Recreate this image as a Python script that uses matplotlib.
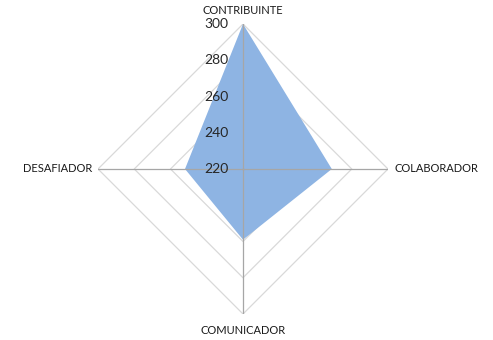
import numpy as np
import matplotlib
matplotlib.use("Agg")
import matplotlib.pyplot as plt
import matplotlib.transforms as mtransforms

categories = ["CONTRIBUINTE", "COLABORADOR", "COMUNICADOR", "DESAFIADOR"]
values = [300, 269, 259, 252]
rticks = [220, 240, 260, 280, 300]
rmin, rmax = 220, 300

plt.rcParams['font.family'] = ['Lato', 'DejaVu Sans']

fig = plt.figure(figsize=(4.93, 3.40), dpi=100)
ax = fig.add_axes([0.1988, 0.0765, 0.5882, 0.8529], projection='polar')
ax.set_theta_offset(np.pi / 2)
ax.set_theta_direction(-1)
ax.set_ylim(rmin, rmax)
ax.grid(False)
ax.set_xticks([])
ax.set_yticks([])
ax.spines['polar'].set_visible(False)
ax.patch.set_alpha(0)

n = len(categories)
angles = np.arange(n) * 2 * np.pi / n
closed_angles = np.concatenate([angles, angles[:1]])

# diamond gridlines
for r in rticks[1:]:
    ax.plot(closed_angles, [r] * (n + 1), color='#d9d9d9', lw=0.9, zorder=1)

# filled series
vals = np.array(values + values[:1], dtype=float)
ax.fill(closed_angles, vals, color='#8eb4e3', zorder=2, lw=0)

# spokes
for a in angles:
    ax.plot([a, a], [rmin, rmax], color='#a6a6a6', lw=0.9, zorder=3)

# radial tick labels
off = mtransforms.offset_copy(ax.transData, fig=fig, x=-10.5, y=0, units='points')
for r in rticks:
    ax.text(0, r, str(r), transform=off, ha='right', va='center',
            fontsize=10, color='#262626', zorder=4)

# category labels
lab_kw = dict(fontsize=8, color='#1a1a1a')
t0 = mtransforms.offset_copy(ax.transData, fig=fig, x=0, y=6, units='points')
ax.text(angles[0], rmax, categories[0], transform=t0, ha='center', va='bottom', **lab_kw)
t1 = mtransforms.offset_copy(ax.transData, fig=fig, x=4.5, y=0, units='points')
ax.text(angles[1], rmax, categories[1], transform=t1, ha='left', va='center', **lab_kw)
t2 = mtransforms.offset_copy(ax.transData, fig=fig, x=0, y=-8, units='points')
ax.text(angles[2], rmax, categories[2], transform=t2, ha='center', va='top', **lab_kw)
t3 = mtransforms.offset_copy(ax.transData, fig=fig, x=-4.5, y=0, units='points')
ax.text(angles[3], rmax, categories[3], transform=t3, ha='right', va='center', **lab_kw)

fig.savefig("out.png", dpi=100, facecolor='white')
